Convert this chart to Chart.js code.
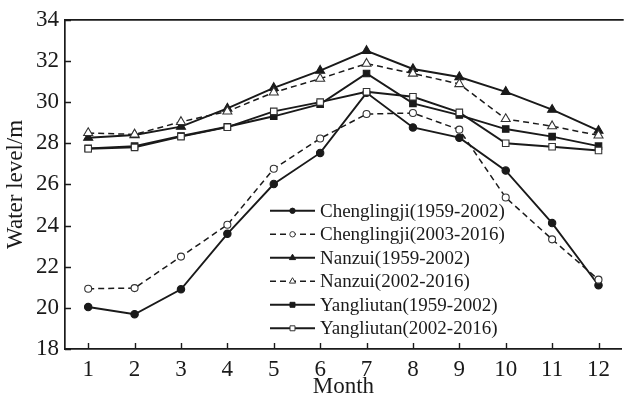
<!DOCTYPE html>
<html><head><meta charset="utf-8">
<script src="https://cdn.jsdelivr.net/npm/chart.js@4.4.0/dist/chart.umd.min.js"></script>
<style>html,body{margin:0;padding:0;background:#fff;overflow:hidden;}#wrap{width:628px;height:401px;position:relative;}</style>
</head><body><div id="wrap"><canvas id="c"></canvas></div>
<script>
// ---- data ----
const months = ['1','2','3','4','5','6','7','8','9','10','11','12'];
const yTicks = [18, 20, 22, 24, 26, 28, 30, 32, 34];
const chenglingjiOld = [20.04, 19.69, 20.90, 23.60, 26.02, 27.53, 30.45, 28.77, 28.27, 26.67, 24.12, 21.10];
const chenglingjiNew = [20.93, 20.96, 22.49, 24.04, 26.76, 28.23, 29.42, 29.47, 28.66, 25.36, 23.33, 21.37];
const nanzuiOld      = [28.27, 28.40, 28.81, 29.69, 30.69, 31.53, 32.49, 31.61, 31.22, 30.50, 29.63, 28.61];
const nanzuiNew      = [28.50, 28.43, 29.04, 29.55, 30.47, 31.14, 31.87, 31.39, 30.88, 29.18, 28.83, 28.38];
const yangliutanOld  = [27.75, 27.86, 28.35, 28.80, 29.31, 29.90, 31.39, 29.94, 29.37, 28.69, 28.32, 27.86];
const yangliutanNew  = [27.73, 27.80, 28.32, 28.78, 29.55, 30.00, 30.50, 30.26, 29.50, 28.00, 27.83, 27.65];
const seriesLabels = [
  'Chenglingji(1959-2002)', 'Chenglingji(2003-2016)',
  'Nanzui(1959-2002)', 'Nanzui(2002-2016)',
  'Yangliutan(1959-2002)', 'Yangliutan(2002-2016)'
];

// ---- styling ----
const INK = '#1a1a1a';
const FONT = "'Liberation Serif', 'Times New Roman', serif";
const DASH = [6, 4];

function makeDs(label, data, style, filled, dashed, order, radius, legendRadius) {
  return {
    label, data, order,
    borderColor: INK,
    borderWidth: dashed ? 1.5 : 1.9,
    borderDash: dashed ? DASH : [],
    pointStyle: style,
    pointRadius: radius,
    pointBorderWidth: 1.1,
    pointBorderColor: filled ? INK : '#333',
    pointBackgroundColor: filled ? INK : '#fff',
    pointHoverRadius: radius,
    legendRadius, filled,
    tension: 0, fill: false
  };
}

const datasets = [
  makeDs(seriesLabels[0], chenglingjiOld, 'circle', true, false, 6, 3.7, 2.7),
  makeDs(seriesLabels[1], chenglingjiNew, 'circle', false, true, 5, 3.5, 2.7),
  makeDs(seriesLabels[2], nanzuiOld, 'triangle', true, false, 4, 5.2, 3.6),
  makeDs(seriesLabels[3], nanzuiNew, 'triangle', false, true, 3, 5.2, 3.6),
  makeDs(seriesLabels[4], yangliutanOld, 'rect', true, false, 2, 4.6, 3.5),
  makeDs(seriesLabels[5], yangliutanNew, 'rect', false, false, 1, 4.6, 3.5)
];

const framePlugin = {
  id: 'frame',
  afterDraw(chart) {
    const {ctx, chartArea: a, scales: {x, y}} = chart;
    ctx.save();
    ctx.strokeStyle = INK;
    ctx.lineWidth = 1.7;
    ctx.beginPath();
    ctx.moveTo(a.left, a.top);
    ctx.lineTo(a.right + 2, a.top);
    ctx.stroke();
    ctx.lineWidth = 1.4;
    ctx.beginPath();
    x.ticks.forEach((t, i) => {
      const px = Math.round(x.getPixelForTick(i)) + 0.5;
      ctx.moveTo(px, a.bottom);
      ctx.lineTo(px, a.bottom - 6);
    });
    y.ticks.forEach((t, i) => {
      const py = Math.round(y.getPixelForTick(i)) + 0.5;
      ctx.moveTo(a.left, py);
      ctx.lineTo(a.left + 6, py);
    });
    ctx.stroke();
    ctx.restore();
  }
};

const legendPlugin = {
  id: 'inlegend',
  afterDraw(chart) {
    const {ctx, chartArea: a} = chart;
    const x0 = a.left + 205, y0 = a.top + 191, rowH = 23.5, lineLen = 45;
    ctx.save();
    ctx.font = '19px ' + FONT;
    ctx.textBaseline = 'middle';
    ctx.textAlign = 'left';
    chart.data.datasets.forEach((d, i) => {
      const yy = y0 + i * rowH;
      ctx.strokeStyle = INK;
      ctx.lineWidth = d.borderWidth;
      ctx.setLineDash(d.borderDash || []);
      ctx.beginPath();
      ctx.moveTo(x0, yy);
      ctx.lineTo(x0 + lineLen, yy);
      ctx.stroke();
      ctx.setLineDash([]);
      ctx.fillStyle = d.pointBackgroundColor;
      ctx.strokeStyle = d.pointBorderColor;
      ctx.lineWidth = 1;
      Chart.helpers.drawPoint(ctx, {pointStyle: d.pointStyle, radius: d.legendRadius, borderWidth: 1, rotation: 0}, x0 + lineLen / 2, yy);
      ctx.fillStyle = INK;
      ctx.fillText(d.label, x0 + lineLen + 5, yy + 1);
    });
    ctx.restore();
  }
};

new Chart(document.getElementById('c'), {
  type: 'line',
  data: { labels: months, datasets },
  plugins: [framePlugin, legendPlugin],
  options: {
    responsive: true,
    maintainAspectRatio: false,
    animation: false,
    devicePixelRatio: 1,
    layout: { padding: { top: 14, left: 0, right: 0, bottom: 0 } },
    plugins: { legend: { display: false }, tooltip: { enabled: false } },
    scales: {
      x: {
        type: 'category',
        offset: true,
        grid: { display: false, drawTicks: false },
        border: { display: true, color: INK, width: 1.7 },
        ticks: { color: INK, font: { family: FONT, size: 23 }, padding: 7, maxRotation: 0 },
        title: { display: true, text: 'Month', color: INK, font: { family: FONT, size: 23 }, padding: { top: 0, bottom: 0 } },
        afterFit(s) { s.height = 52; }
      },
      y: {
        type: 'linear',
        min: yTicks[0],
        max: yTicks[yTicks.length - 1],
        afterBuildTicks(s) { s.ticks = yTicks.map(v => ({ value: v })); },
        grid: { display: false, drawTicks: false },
        border: { display: true, color: INK, width: 1.7 },
        ticks: { color: INK, font: { family: FONT, size: 23 }, padding: 6 },
        title: { display: true, text: 'Water level/m', color: INK, font: { family: FONT, size: 23 }, padding: { top: 2, bottom: 0 } },
        afterFit(s) { s.width = 65; }
      }
    }
  }
});
</script>
</body></html>
